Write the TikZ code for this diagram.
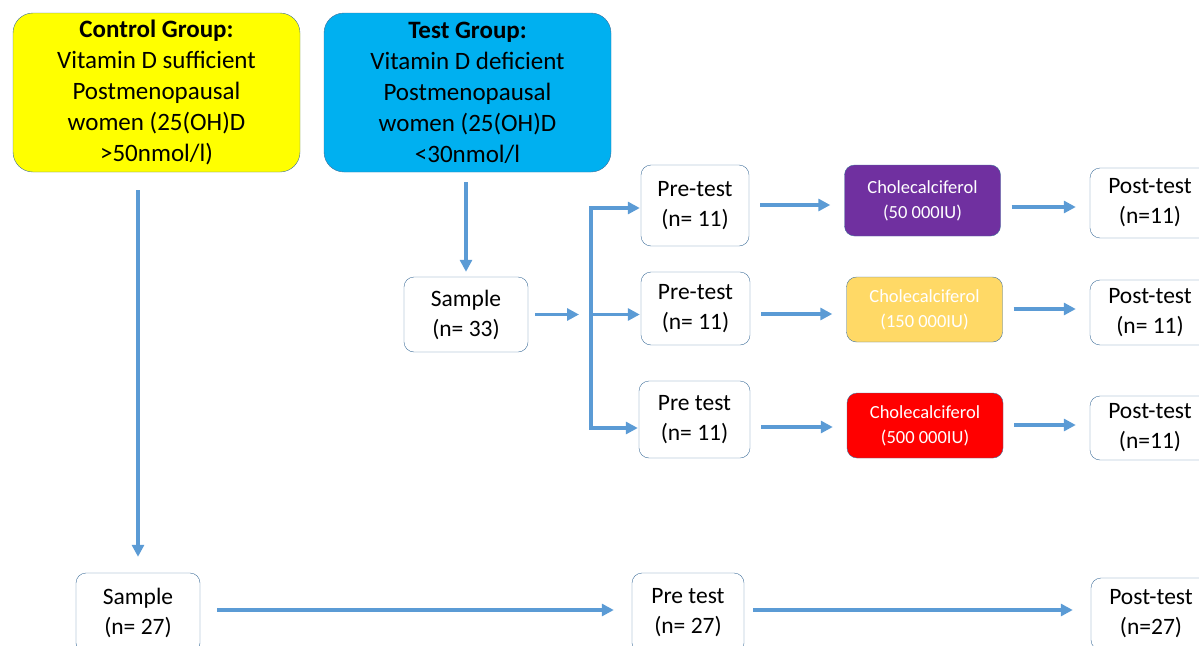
\documentclass[tikz,border=0pt]{standalone}
\usepackage{fontspec}
\setmainfont{Carlito}
\usetikzlibrary{arrows.meta}

\definecolor{flowblue}{HTML}{5B9BD5}
\definecolor{edgeblue}{HTML}{41719C}
\definecolor{ctrlyellow}{HTML}{FFFF00}
\definecolor{testcyan}{HTML}{00B0F0}
\definecolor{dosepurple}{HTML}{7030A0}
\definecolor{dosegold}{HTML}{FFD966}
\definecolor{dosered}{HTML}{FF0000}

\tikzset{
  grpbox/.style={draw=edgeblue, rounded corners=20pt, minimum width=287pt, minimum height=159pt,
    align=center, font=\fontsize{25}{31}\selectfont, inner sep=0pt},
  stagebox/.style={draw=edgeblue, fill=white, rounded corners=10pt, align=center,
    font=\fontsize{23.5}{30}\selectfont, inner sep=0pt},
  dosebox/.style={draw=edgeblue, rounded corners=10pt, align=center, text=white,
    font=\fontsize{18.5}{25}\selectfont, inner sep=0pt, minimum width=156pt},
  flow/.style={draw=flowblue, line width=3.8pt, -{Triangle[length=12pt,width=12pt]}},
}

\begin{document}
\begin{tikzpicture}[x=1pt,y=-1pt]
\useasboundingbox (0,0) rectangle (1199,645);
\clip (0,0) rectangle (1199,645);
% groups
\node[grpbox, fill=ctrlyellow] (ctrl) at (156.5,92.5) {\textbf{Control Group:}\\Vitamin D sufficient\\Postmenopausal\\women (25(OH)D\\>50nmol/l)};
\node[grpbox, fill=testcyan] (test) at (467.5,92.5) {\textbf{Test Group:}\\Vitamin D deficient\\Postmenopausal\\women (25(OH)D\\<30nmol/l};
% test group
\node[stagebox, minimum width=124pt, minimum height=75pt] (s33) at (466,314.5) {Sample\\(n= 33)};
\node[stagebox, minimum width=108pt, minimum height=81pt] (pre1) at (695,205.5) {Pre-test\\(n= 11)};
\node[stagebox, minimum width=109pt, minimum height=73pt] (pre2) at (695.5,308.5) {Pre-test\\(n= 11)};
\node[stagebox, minimum width=111pt, minimum height=77pt] (pre3) at (694.5,419.5) {Pre test\\(n= 11)};
\node[dosebox, fill=dosepurple, minimum height=71pt] (dose1) at (922.5,200.5) {Cholecalciferol\\(50 000IU)};
\node[dosebox, fill=dosegold, minimum height=65pt] (dose2) at (924.5,309.5) {Cholecalciferol\\(150 000IU)};
\node[dosebox, fill=dosered, minimum height=65pt] (dose3) at (925,425.5) {Cholecalciferol\\(500 000IU)};
\node[stagebox, minimum width=120pt, minimum height=70pt] (post1) at (1150,203) {Post-test\\(n=11)};
\node[stagebox, minimum width=120pt, minimum height=65pt] (post2) at (1150,312.5) {Post-test\\(n= 11)};
\node[stagebox, minimum width=120pt, minimum height=64pt] (post3) at (1150,428) {Post-test\\(n=11)};
% control group
\node[stagebox, minimum width=124pt, minimum height=80pt] (s27) at (138,613) {Sample\\(n= 27)};
\node[stagebox, minimum width=112pt, minimum height=80pt] (pre27) at (688,613) {Pre test\\(n= 27)};
\node[stagebox, minimum width=120pt, minimum height=72pt] (post27) at (1151,614) {Post-test\\(n=27)};

% connectors
\draw[flow] ([yshift=-18pt]ctrl.south -| s27.north) -- ([yshift=16pt]s27.north);
\draw[flow] ([yshift=-10pt]test.south -| s33.north) -- ([yshift=5pt]s33.north);
\coordinate (fork) at (591,314.5);
\draw[flow] ([xshift=7pt]s33.east) -- ([xshift=-12pt]fork);
\draw[draw=flowblue, line width=3.8pt] (fork |- 0,206.1) -- (fork |- 0,429.9);
\foreach \p/\y in {pre1/208, pre2/314.5, pre3/428} {
  \draw[flow] ([xshift=-1.9pt]fork |- 0,\y) -- ([xshift=-1pt]\p.west |- 0,\y);
}
\foreach \a/\b/\y in {pre1/dose1/205, pre2/dose2/314, pre3/dose3/427, dose1/post1/207, dose2/post2/309, dose3/post3/425} {
  \draw[flow] ([xshift=11pt]\a.east |- 0,\y) -- ([xshift=-14pt]\b.west |- 0,\y);
}
\draw[flow] ([xshift=17pt]s27.east |- 0,610) -- ([xshift=-18pt]pre27.west |- 0,610);
\draw[flow] ([xshift=9pt]pre27.east |- 0,610) -- ([xshift=-18pt]post27.west |- 0,610);
\end{tikzpicture}
\end{document}
